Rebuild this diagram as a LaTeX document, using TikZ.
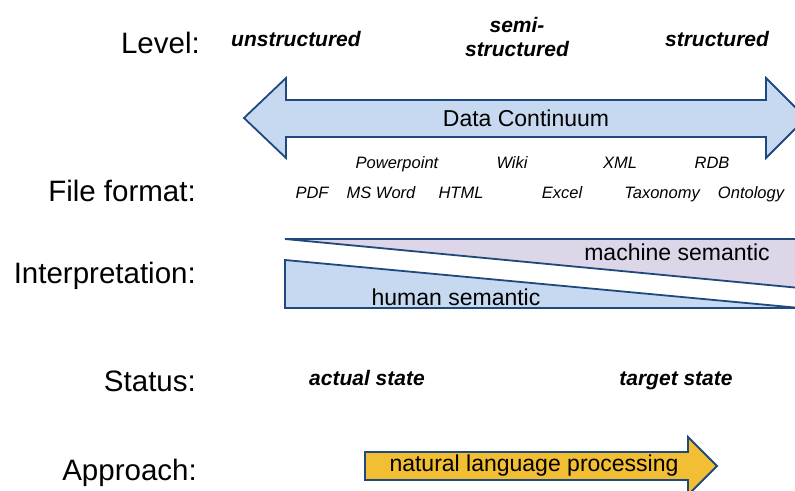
\documentclass[tikz,border=0pt]{standalone}
\usepackage{fontspec}
\setmainfont{Liberation Sans}
\definecolor{edgeblue}{HTML}{1F497D}
\definecolor{paleblue}{HTML}{C6D9F1}
\definecolor{lavender}{HTML}{DDD5E8}
\definecolor{gold}{HTML}{F2BE34}
\tikzset{
  rowlabel/.style={anchor=base east, inner sep=0pt, font=\fontsize{29.5}{31}\selectfont},
  levellabel/.style={anchor=base, inner sep=0pt, align=center, font=\fontsize{21}{24}\selectfont\bfseries\itshape},
  formatlabel/.style={anchor=base, inner sep=0pt, font=\fontsize{16.5}{18}\selectfont\itshape},
  bandtext/.style={inner sep=0pt, font=\fontsize{23}{25}\selectfont},
  shape outline/.style={draw=edgeblue, line width=1.8pt, line join=miter},
}
\begin{document}
\begin{tikzpicture}[x=1pt, y=-1pt]
\useasboundingbox (0,0) rectangle (795,490);
\clip (0,0) rectangle (795,490);

% row captions
\node[rowlabel] (lvl)    at (200,53)  {Level:};
\node[rowlabel] (fmt)    at (196,201) {File format:};
\node[rowlabel] (interp) at (196,283) {Interpretation:};
\node[rowlabel] (stat)   at (196,391) {Status:};
\node[rowlabel] (appr)   at (197,480) {Approach:};

% structuring levels
\node[levellabel] (unstr) at (296,46) {unstructured};
\node[levellabel, anchor=center] (semi) at (517,37) {semi-\\structured};
\node[levellabel] (str)   at (717,46) {structured};

% double arrow of the data continuum
\filldraw[shape outline, fill=paleblue]
  (244,118) -- (286,78) -- (286,100) -- (766,100) -- (766,78)
  -- (806,118) -- (766,158) -- (766,137) -- (286,137) -- (286,158) -- cycle;
\node[bandtext] (cont) at (526,118) {Data Continuum};

% file formats
\node[formatlabel] (ppt)  at (397,168) {Powerpoint};
\node[formatlabel] (wiki) at (512,168) {Wiki};
\node[formatlabel] (xml)  at (620,168) {XML};
\node[formatlabel] (rdb)  at (712,168) {RDB};
\node[formatlabel] (pdf)  at (312,198) {PDF};
\node[formatlabel] (doc)  at (381,198) {MS Word};
\node[formatlabel] (html) at (461,198) {HTML};
\node[formatlabel] (xls)  at (562,198) {Excel};
\node[formatlabel] (tax)  at (662,198) {Taxonomy};
\node[formatlabel] (onto) at (751,198) {Ontology};

% interpretation wedges
\filldraw[shape outline, fill=lavender]
  (285,239) -- (800,239) -- (800,288) -- cycle;
\filldraw[shape outline, fill=paleblue]
  (285,260) -- (800,308) -- (285,308) -- cycle;
\node[bandtext] (mach) at (677,252) {machine semantic};
\node[bandtext] (hum)  at (456,297) {human semantic};

% status
\node[levellabel] (actual) at (367,385) {actual state};
\node[levellabel] (target) at (676,385) {target state};

% approach arrow
\filldraw[shape outline, fill=gold]
  (365,452) -- (688,452) -- (688,437) -- (717,466) -- (688,495)
  -- (688,480) -- (365,480) -- cycle;
\node[bandtext] (nlp) at (534,466) {natural language processing};
\end{tikzpicture}
\end{document}
